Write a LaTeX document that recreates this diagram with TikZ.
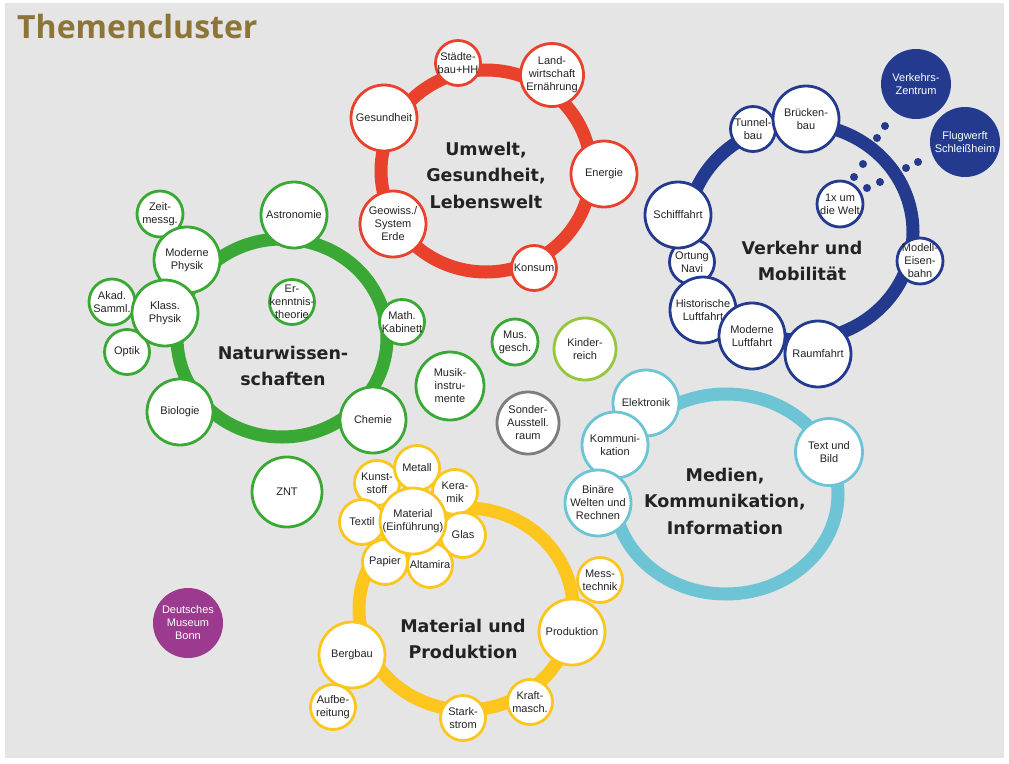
\documentclass[tikz,border=0pt]{standalone}
\usepackage{fontspec}
\setmainfont{Liberation Sans}
\newfontfamily\headfont{DejaVu Sans}
\newfontfamily\capfont{Open Sans}
\usepackage{tikz}
\usetikzlibrary{positioning}
\definecolor{bggray}{RGB}{229,229,229}
\definecolor{cred}{RGB}{232,66,44}
\definecolor{cgreen}{RGB}{58,168,52}
\definecolor{clime}{RGB}{150,198,60}
\definecolor{cgray}{RGB}{125,125,125}
\definecolor{cblue}{RGB}{35,58,143}
\definecolor{ccyan}{RGB}{108,196,212}
\definecolor{cyellow}{RGB}{252,198,30}
\definecolor{cpurple}{RGB}{155,58,142}
\definecolor{cgold}{RGB}{140,117,55}
\definecolor{ctext}{RGB}{35,35,35}

\begin{document}
\begin{tikzpicture}[x=1pt, y=-1pt,
		ring/.style={draw=#1, line width=13pt},
		bub/.style={circle, draw=#1, line width=2.8pt, fill=white, inner sep=0pt, minimum size=66pt},
		sbub/.style={bub=#1, minimum size=45pt},
		full/.style={circle, fill=#1, inner sep=0pt, minimum size=70pt},
		lbl/.style={align=center, font=\fontsize{11}{13}\selectfont, text=ctext, inner sep=0pt},
		wlbl/.style={lbl, text=white},
		head/.style={align=center, font=\headfont\bfseries\fontsize{17.5}{26.5}\selectfont, text=ctext, inner sep=0pt}]
		\useasboundingbox (0,0) rectangle (1009,763);
		\fill[white] (0,0) rectangle (1009,763);
		\fill[bggray] (5,3) rectangle (1004,758);
		
		%coordinates
		\coordinate (cU) at (486,171);
		\coordinate (cV) at (800,232);
		\coordinate (cN) at (282,338);
		\coordinate (cM) at (466,609);
		\coordinate (cK) at (726,494);
		
		%rings
		\draw[ring=cred]    (cU) ellipse [x radius=105, y radius=101];
		\draw[ring=cblue]   (cV) ellipse [x radius=113, y radius=108];
		\draw[ring=cgreen]  (cN) ellipse [x radius=105, y radius=99];
		\draw[ring=cyellow] (cM) ellipse [x radius=107, y radius=101];
		\draw[ring=ccyan]   (cK) ellipse [x radius=112, y radius=100];
		
		%title
		\node[font=\capfont\bfseries\fontsize{32}{36}\selectfont, text=cgold, anchor=base west, inner sep=0pt] (title) at (17,38) {Themencluster};
		
		%Umwelt
		\node[sbub=cred, label={[lbl]center:Städte-\\bau+HH}] (staedte) at (458,63) {};
		\node[bub=cred, minimum size=63pt, label={[lbl]center:Land-\\wirtschaft\\Ernährung}] (landw) at (552,75) {};
		\node[bub=cred, label={[lbl]center:Gesundheit}] (gesund) at (384,118) {};
		\node[bub=cred, label={[lbl]center:Energie}] (energie) at (604,174) {};
		\node[bub=cred, label={[lbl]center:Geowiss./\\System\\Erde}] (geo) at (393,224) {};
		\node[sbub=cred, label={[lbl]center:Konsum}] (konsum) at (534,268) {};
		\node[head] (umwelt) at (486,175) {Umwelt,\\Gesundheit,\\Lebenswelt};
		
		%Verkehr
		\node[sbub=cblue, label={[lbl]center:Tunnel-\\bau}] (tunnel) at (753,129) {};
		\node[bub=cblue, label={[lbl]center:Brücken-\\bau}] (bruecke) at (806,119) {};
		\node[sbub=cblue, minimum size=46pt, label={[lbl]center:1x um\\die Welt}] (welt) at (840,204) {};
		\node[sbub=cblue, label={[lbl]center:Ortung\\Navi}] (ortung) at (692,262) {};
		\node[bub=cblue, label={[lbl]center:Schifffahrt}] (schiff) at (678,215) {};
		\node[bub=cblue, label={[lbl]center:Historische\\Luftfahrt}] (histlf) at (703,310) {};
		\node[bub=cblue, label={[lbl]center:Moderne\\Luftfahrt}] (modlf) at (752,336) {};
		\node[bub=cblue, label={[lbl]center:Raumfahrt}] (raum) at (818,354) {};
		\node[sbub=cblue, minimum size=46pt, label={[lbl]center:Modell-\\Eisen-\\bahn}] (modell) at (920,261) {};
		\node[full=cblue, label={[wlbl]center:Verkehrs-\\Zentrum}] (vzentrum) at (916,84) {};
		\node[full=cblue, label={[wlbl]center:Flugwerft\\Schleißheim}] (flugwerft) at (965,142) {};
		\fill[cblue] (885,126) circle [radius=4] (877,138) circle [radius=4]
			(863,164) circle [radius=4] (854,177) circle [radius=4]
			(918,162) circle [radius=4] (906,168) circle [radius=4]
			(880,182) circle [radius=4] (867,188) circle [radius=4];
		\node[head] (verkehr) at (802,261) {Verkehr und\\Mobilität};
		
		%Naturwissenschaften
		\node[sbub=cgreen, minimum size=46pt, label={[lbl]center:Zeit-\\messg.}] (zeit) at (160,214) {};
		\node[sbub=cgreen, minimum size=46pt, label={[lbl]center:Akad.\\Samml.}] (akad) at (112,302) {};
		\node[sbub=cgreen, label={[lbl]center:Optik}] (optik) at (127,352) {};
		\node[bub=cgreen, label={[lbl]center:Moderne\\Physik}] (modph) at (187,260) {};
		\node[bub=cgreen, label={[lbl]center:Klass.\\Physik}] (klph) at (165,313) {};
		\node[bub=cgreen, label={[lbl]center:Astronomie}] (astro) at (294,215) {};
		\node[sbub=cgreen, label={[lbl]center:Er-\\kenntnis-\\theorie}] (erk) at (292,302) {};
		\node[sbub=cgreen, label={[lbl]center:Math.\\Kabinett}] (math) at (402,322) {};
		\node[bub=cgreen, label={[lbl]center:Biologie}] (bio) at (180,412) {};
		\node[bub=cgreen, label={[lbl]center:Chemie}] (chemie) at (373,420) {};
		\node[bub=cgreen, minimum size=70pt, label={[lbl]center:ZNT}] (znt) at (287,492) {};
		\node[bub=cgreen, minimum size=68pt, label={[lbl]center:Musik-\\instru-\\mente}] (musik) at (450,386) {};
		\node[sbub=cgreen, minimum size=46pt, label={[lbl]center:Mus.\\gesch.}] (musg) at (515,342) {};
		\node[bub=clime, minimum size=62pt, label={[lbl]center:Kinder-\\reich}] (kinder) at (585,349) {};
		\node[bub=cgray, minimum size=62pt, label={[lbl]center:Sonder-\\Ausstell.\\raum}] (sonder) at (528,423) {};
		\node[head] (natur) at (283,366) {Naturwissen-\\schaften};
		
		%Material
		\node[sbub=cyellow, label={[lbl]center:Kunst-\\stoff}] (kunst) at (377,483) {};
		\node[sbub=cyellow, label={[lbl]center:Metall}] (metall) at (417,468) {};
		\node[sbub=cyellow, label={[lbl]center:Kera-\\mik}] (keramik) at (455,492) {};
		\node[sbub=cyellow, label={[lbl]center:Glas}] (glas) at (463,535) {};
		\node[sbub=cyellow, label={[lbl]center:Altamira}] (altamira) at (430,565) {};
		\node[sbub=cyellow, label={[lbl]center:Papier}] (papier) at (385,562) {};
		\node[sbub=cyellow, label={[lbl]center:Textil}] (textil) at (362,522) {};
		\node[bub=cyellow, label={[lbl]center:Material\\(Einführung)}] (material) at (413,521) {};
		\node[sbub=cyellow, label={[lbl]center:Mess-\\technik}] (mess) at (600,580) {};
		\node[bub=cyellow, label={[lbl]center:Produktion}] (prod) at (572,632) {};
		\node[bub=cyellow, label={[lbl]center:Bergbau}] (berg) at (352,655) {};
		\node[sbub=cyellow, label={[lbl]center:Aufbe-\\reitung}] (aufb) at (333,707) {};
		\node[sbub=cyellow, label={[lbl]center:Stark-\\strom}] (stark) at (463,718) {};
		\node[sbub=cyellow, label={[lbl]center:Kraft-\\masch.}] (kraft) at (530,702) {};
		\node[head] (matprod) at (463,639) {Material und\\Produktion};
		
		%Medien
		\node[bub=ccyan, label={[lbl]center:Elektronik}] (elektro) at (646,403) {};
		\node[bub=ccyan, label={[lbl]center:Kommuni-\\kation}] (kommu) at (615,445) {};
		\node[bub=ccyan, label={[lbl]center:Binäre\\Welten und\\Rechnen}] (binaer) at (598,503) {};
		\node[bub=ccyan, minimum size=67pt, label={[lbl]center:Text und\\Bild}] (textbild) at (829,452) {};
		\node[head] (medien) at (725,501) {Medien,\\Kommunikation,\\Information};
		
		%Bonn
		\node[full=cpurple, label={[wlbl]center:Deutsches\\Museum\\Bonn}] (bonn) at (188,623) {};
\end{tikzpicture}
\end{document}
